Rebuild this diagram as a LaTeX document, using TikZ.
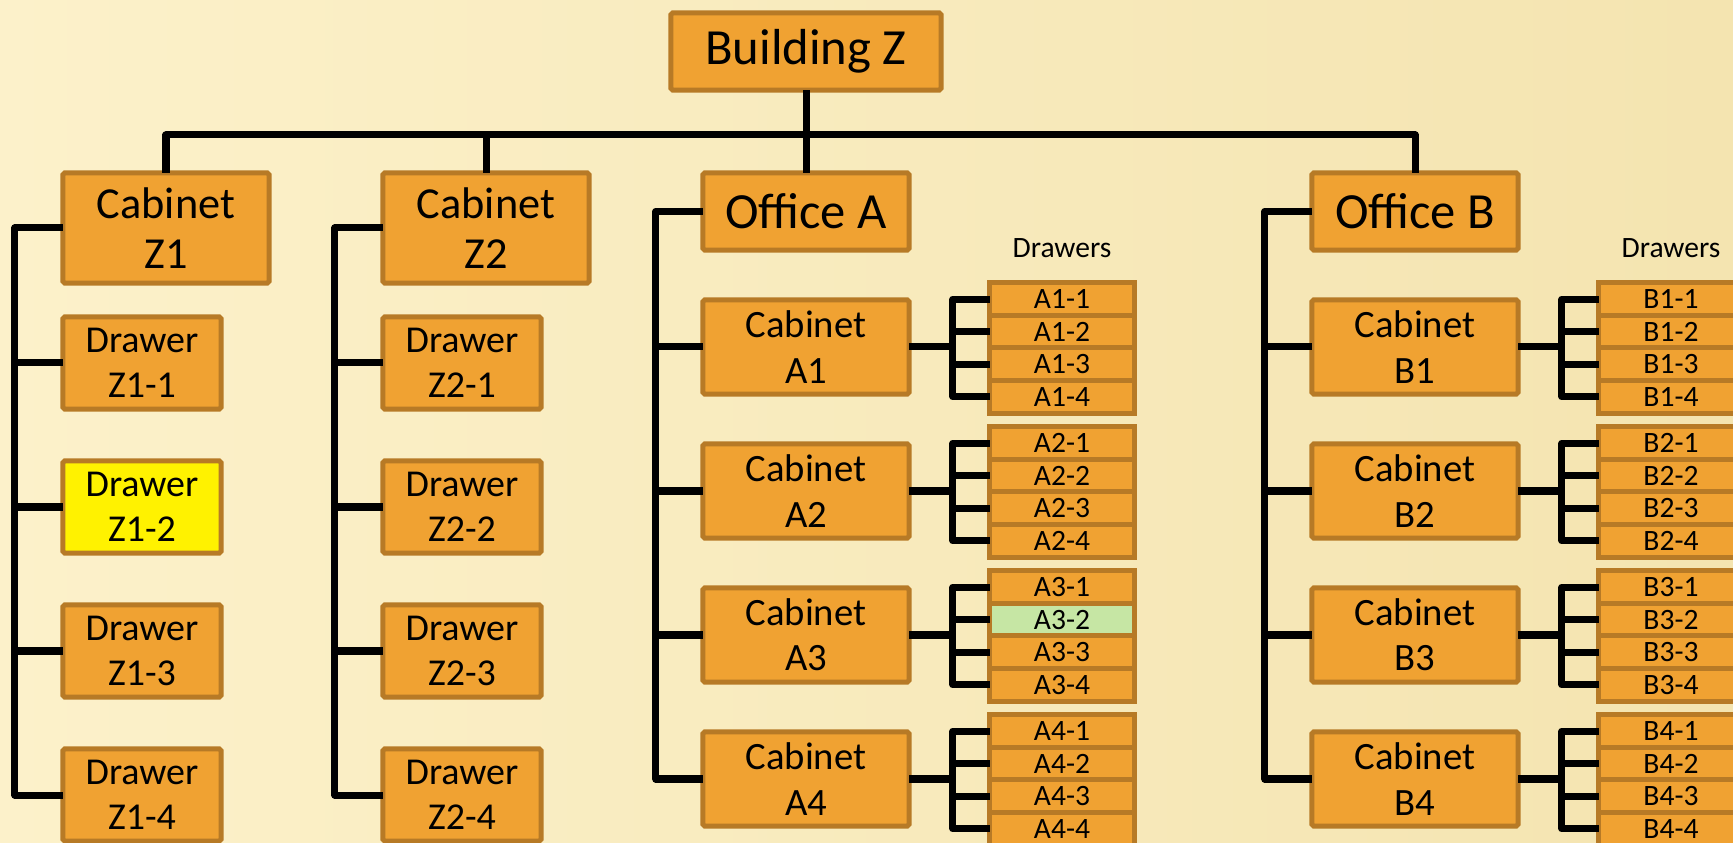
\documentclass[tikz,border=0pt]{standalone}
\usepackage{fontspec}
\setmainfont{Carlito}
\usetikzlibrary{positioning}

\definecolor{boxfill}{RGB}{240,162,50}
\definecolor{boxline}{RGB}{183,122,38}
\definecolor{bglight}{RGB}{252,241,202}
\definecolor{bgdark}{RGB}{244,228,176}
\definecolor{pickgreen}{RGB}{198,230,164}

\begin{document}
\begin{tikzpicture}[x=0.01cm,y=-0.01cm]%
\tikzstyle{box}=[rectangle,draw=boxline,fill=boxfill,line width=0.05cm,rounded corners=0.5pt,inner sep=0pt,outer sep=0pt,align=center]
\tikzstyle{building}=[box,minimum width=2.7cm,minimum height=0.77cm,font=\fontsize{14.4}{17}\selectfont]
\tikzstyle{office}=[box,minimum width=2.06cm,minimum height=0.77cm,font=\fontsize{14.4}{17}\selectfont]
\tikzstyle{bigcab}=[box,minimum width=2.06cm,minimum height=1.1cm,font=\fontsize{12.6}{14.4}\selectfont]
\tikzstyle{zdrawer}=[box,minimum width=1.58cm,minimum height=0.92cm,font=\fontsize{10.8}{12.7}\selectfont]
\tikzstyle{cab}=[box,minimum width=2.06cm,minimum height=0.94cm,font=\fontsize{11}{12.9}\selectfont]
\tikzstyle{drawer}=[box,rounded corners=0pt,minimum width=1.44cm,minimum height=0.325cm,font=\fontsize{8.4}{10}\selectfont]
\tikzstyle{lbl}=[inner sep=0pt,font=\fontsize{8.4}{10}\selectfont]
\tikzstyle{link}=[line width=0.07cm,line join=round]

\useasboundingbox (0,0) rectangle (1733,843);
\clip (0,0) rectangle (1733,843);
\shade[left color=bglight,right color=bgdark] (0,0) rectangle (1733,843);

% building, cabinets Z and offices
\node[building] (bz) at (806,51.5) {Building Z};
\node[bigcab] (cz1) at (166,228) {Cabinet\\Z1};
\node[bigcab] (cz2) at (486,228) {Cabinet\\Z2};
\node[office] (oA) at (806,211.5) {Office A};
\node[office] (oB) at (1415,211.5) {Office B};
\coordinate (bus) at (806,135);
\draw[link] (bz) -- (oA);
\draw[link] (cz1) |- (bus) -| (oB);
\draw[link] (cz2) -- (cz2 |- bus);

% drawers of cabinets Z
\foreach \n/\xx in {1/142,2/462}{
  \foreach \d in {1,...,4}{
    \ifnum\n\d=12 \def\zcol{yellow}\else\def\zcol{boxfill}\fi
    \node[zdrawer,fill=\zcol] (z\n d\d) at (\xx,{363+144*(\d-1)}) {Drawer\\Z\n-\d};
  }
  \draw[link] (cz\n.west) -- ++(-0.48cm,0) |- (z\n d4.west);
  \foreach \d in {1,2,3} \draw[link] (z\n d\d.west) -- ++(-0.48cm,0);
}

% cabinets and drawers of the offices
\foreach \o/\ox/\dx/\hot in {A/806/1062/32,B/1415/1671/0}{
  \node[lbl] (lbl\o) at (\dx,248) {Drawers};
  \foreach \k in {1,...,4}{
    \node[cab] (c\o\k) at (\ox,{347+144*(\k-1)}) {Cabinet\\\o\k};
    \foreach \j in {1,...,4}{
      \ifnum\k\j=\hot \def\dcol{pickgreen}\else\def\dcol{boxfill}\fi
      \node[drawer,fill=\dcol] (d\o\k\j) at (\dx,{299.25+144*(\k-1)+32.5*(\j-1)}) {\o\k-\j};
    }
    \draw[link] (d\o\k1.west) -- ++(-0.37cm,0) coordinate (br\o\k) |- (d\o\k4.west);
    \draw[link] (d\o\k2.west) -- (d\o\k2.west -| br\o\k);
    \draw[link] (d\o\k3.west) -- (d\o\k3.west -| br\o\k);
    \draw[link] (c\o\k.east) -- (c\o\k.east -| br\o\k);
  }
  \draw[link] (o\o.west) -- ++(-0.47cm,0) |- (c\o4.west);
  \foreach \k in {1,2,3} \draw[link] (c\o\k.west) -- ++(-0.47cm,0);
}
\end{tikzpicture}
\end{document}
